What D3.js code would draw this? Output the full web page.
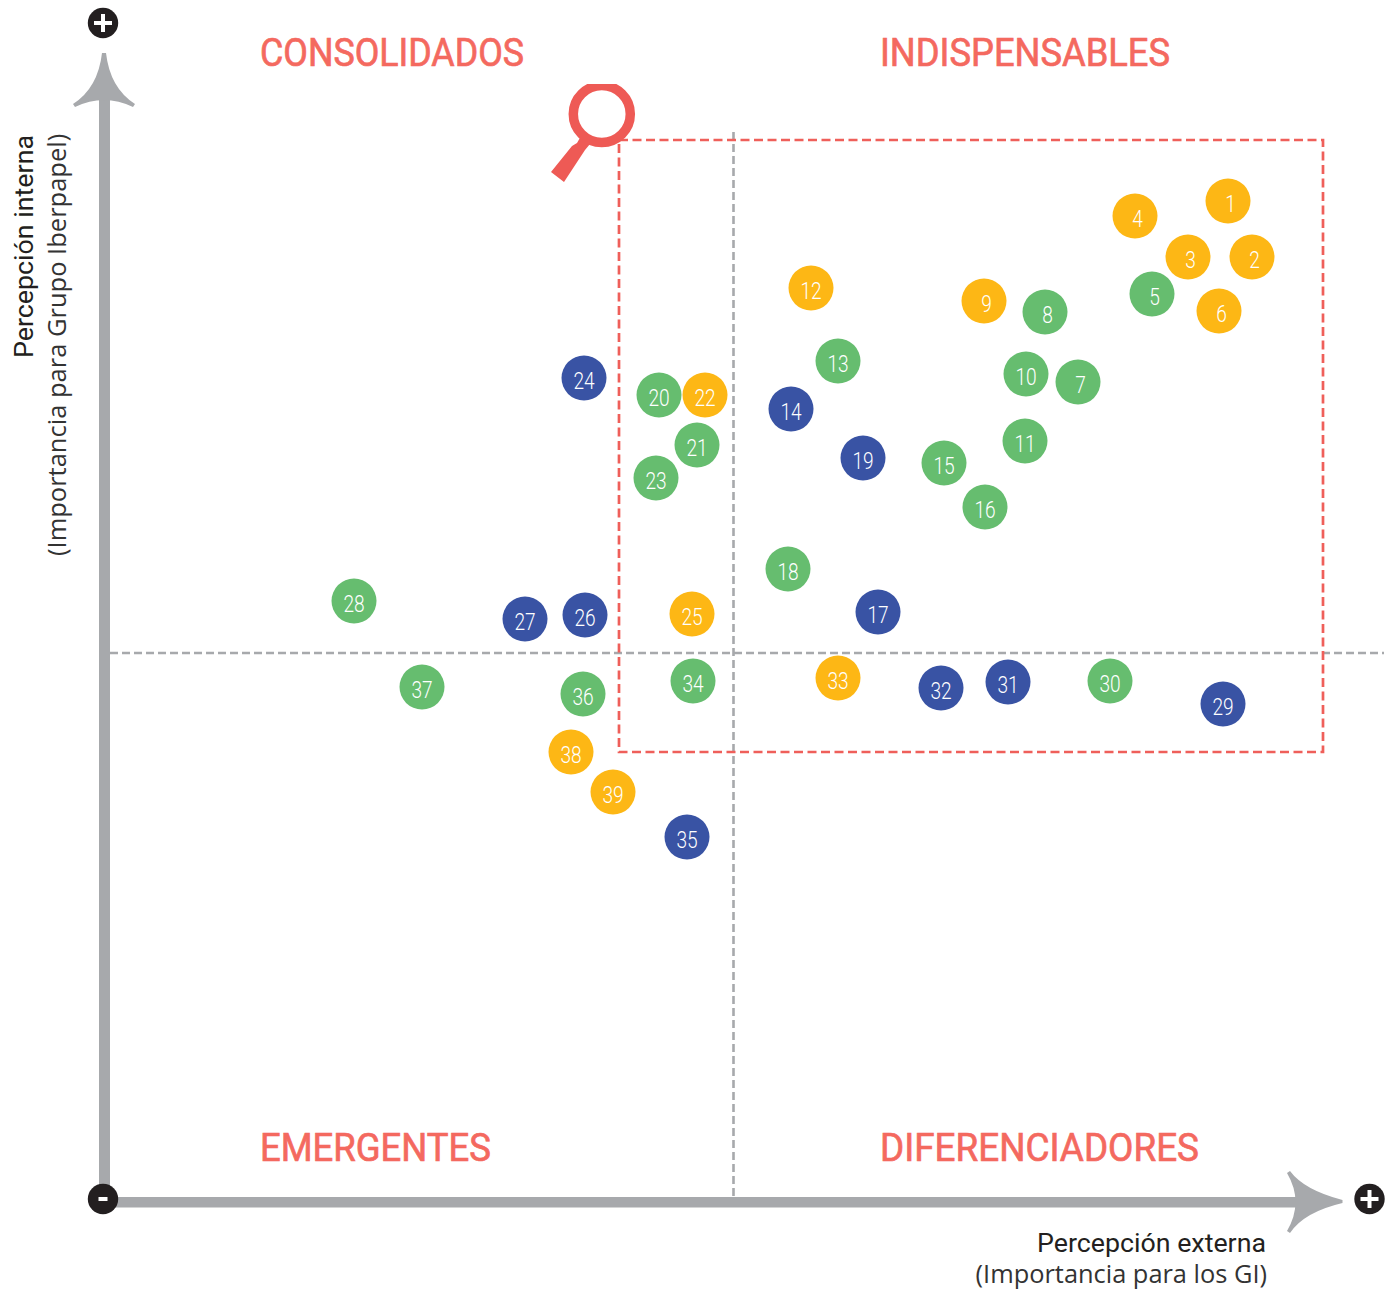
<!DOCTYPE html>
<html><head><meta charset="utf-8">
<script src="https://cdn.jsdelivr.net/npm/d3@7/dist/d3.min.js"></script>
<style>html,body{margin:0;background:#fff}svg{display:block}</style></head>
<body><svg id="c" width="1394" height="1294"></svg>
<script>
// Values in chart units
const ids = d3.range(1, 40);
const xValues = [1124,1148,1084,1031,1048,1115,974,941,880,922,921,707,734,687,840,881,774,684,759,555,593,601,552,480,588,481,421,250,1119,1006,904,837,734,589,583,479,318,467,509];
const yValues = [999,943,943,984,906,889,818,888,899,826,759,912,839,791,737,693,588,631,742,805,755,805,722,822,586,585,581,599,496,519,518,512,522,519,363,506,513,448,408];
const groups = ["o","o","o","o","g","o","g","g","o","g","g","o","g","b","g","g","b","g","b","g","g","o","g","b","o","b","b","g","b","g","b","b","o","g","b","g","g","o","o"];
const quadrantNames = ["CONSOLIDADOS","INDISPENSABLES","EMERGENTES","DIFERENCIADORES"];
const xAxisTitle = ["Percepción externa","(Importancia para los GI)"];
const yAxisTitle = ["Percepción interna","(Importancia para Grupo Iberpapel)"];
const crossX = 629.5, crossY = 547;
const focusBox = [515, 1219, 448, 1060];

const svg = d3.select("#c");
const x = d3.scaleLinear().domain([0,1240]).range([104,1344]);
const y = d3.scaleLinear().domain([0,1200]).range([1200,0]);
const color = d3.scaleOrdinal().domain(["o","g","b"]).range(["#fdb715","#66bd6f","#3953a4"]);
const GREY="#a7a9ac", RED="#f4695f", DARK="#231f20";

// quadrant lines
svg.append("line").attr("x1",x(crossX)).attr("x2",x(crossX)).attr("y1",132).attr("y2",1197)
  .attr("stroke",GREY).attr("stroke-width",2.6).attr("stroke-dasharray","8 4");
svg.append("line").attr("x1",110).attr("x2",1384).attr("y1",y(crossY)).attr("y2",y(crossY))
  .attr("stroke",GREY).attr("stroke-width",2.6).attr("stroke-dasharray","8 4");

// focus box
svg.append("rect").attr("x",x(focusBox[0])).attr("y",y(focusBox[3]))
  .attr("width",x(focusBox[1])-x(focusBox[0])).attr("height",y(focusBox[2])-y(focusBox[3]))
  .attr("fill","none").attr("stroke","#ef5f5a").attr("stroke-width",2.7).attr("stroke-dasharray","9 4.5");

// axes
svg.append("rect").attr("x",99).attr("y",95).attr("width",11).attr("height",1112).attr("fill",GREY);
svg.append("rect").attr("x",104).attr("y",1197).attr("width",1200).attr("height",10.5).attr("fill",GREY);
svg.append("path").attr("fill",GREY)
  .attr("d","M102 53 L106 53 Q110 88 135 104 L133 107 Q104 93 75 107 L73 104 Q98 88 102 53Z");
svg.append("path").attr("fill",GREY)
  .attr("d","M1342.5 1200 L1342.5 1203 Q1304 1212 1290 1233 L1287 1231 Q1304 1202 1287 1173 L1290 1171 Q1304 1190 1342.5 1200Z");

// badges
[[103,23,"+"],[103,1199,"-"],[1369.5,1199,"+"]].forEach(([cx,cy,s])=>{
  const g=svg.append("g").attr("transform",`translate(${cx},${cy})`);
  g.append("circle").attr("r",15.2).attr("fill",DARK);
  g.append("rect").attr("x",s==="+"?-9:-4.5).attr("y",-2).attr("width",s==="+"?18:9).attr("height",4).attr("fill","#fff");
  if(s==="+") g.append("rect").attr("x",-2).attr("y",-9).attr("width",4).attr("height",18).attr("fill","#fff");
});

// magnifier
svg.append("defs").append("clipPath").attr("id","mag").append("rect").attr("x",540).attr("y",84).attr("width",100).attr("height",110);
const mag=svg.append("g").attr("clip-path","url(#mag)");
mag.append("circle").attr("cx",601.8).attr("cy",114).attr("r",28.5).attr("fill","none").attr("stroke","#ee5a55").attr("stroke-width",9.5);
mag.append("path").attr("fill","#ee5a55").attr("d","M572 146 L577 143 L581 136 L590 144 L585 150 L564 182 L551 172Z");

// quadrant titles
const titlePos=[[260,66,264],[880,66,290],[260,1161,231],[880,1161,319]];
svg.selectAll("text.q").data(quadrantNames).join("text").attr("class","q")
  .attr("x",(d,i)=>titlePos[i][0]).attr("y",(d,i)=>titlePos[i][1])
  .attr("textLength",(d,i)=>titlePos[i][2]).attr("lengthAdjust","spacingAndGlyphs")
  .attr("font-family","Roboto").attr("font-size",38).attr("fill",RED)
  .attr("stroke",RED).attr("stroke-width",0.7).text(d=>d);

// axis titles
svg.append("text").attr("x",1037).attr("y",1252).attr("textLength",229).attr("lengthAdjust","spacingAndGlyphs")
  .attr("font-family","Roboto").attr("font-size",26).attr("fill",DARK).text(xAxisTitle[0]);
svg.append("text").attr("x",1267).attr("y",1283).attr("text-anchor","end")
  .attr("font-family","'Open Sans'").attr("font-size",25.4).attr("fill","#333").text(xAxisTitle[1]);
svg.append("text").attr("transform","translate(33,358) rotate(-90)").attr("textLength",223).attr("lengthAdjust","spacingAndGlyphs")
  .attr("font-family","Roboto").attr("font-size",26).attr("fill",DARK).text(yAxisTitle[0]);
svg.append("text").attr("transform","translate(66,556) rotate(-90)")
  .attr("font-family","'Open Sans'").attr("font-size",25.5).attr("fill","#333").text(yAxisTitle[1]);

// points
const pts=svg.selectAll("g.p").data(ids).join("g").attr("class","p")
  .attr("transform",(d,i)=>`translate(${x(xValues[i])},${y(yValues[i])})`);
pts.append("circle").attr("r",22.5).attr("fill",(d,i)=>color(groups[i]));
pts.append("text").attr("transform",d=>`translate(${d<10?2.5:0},11) scale(0.78,1)`).attr("text-anchor","middle")
  .attr("font-family","Roboto").attr("font-size",24.5).attr("font-weight",300).attr("fill","#fff").text(d=>d);
</script></body></html>
